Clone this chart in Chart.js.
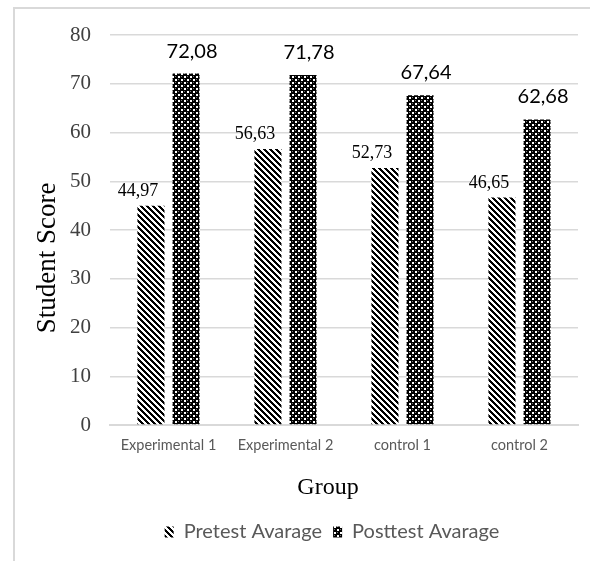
<!DOCTYPE html>
<html>
<head>
<meta charset="utf-8">
<script src="https://cdn.jsdelivr.net/npm/chart.js@4.4.1/dist/chart.umd.min.js"></script>
<style>
html,body{margin:0;padding:0;background:#fff;overflow:hidden;}
#frame{position:absolute;left:13px;top:7px;width:600px;height:600px;border-left:2px solid #d9d9d9;border-top:2px solid #d9d9d9;box-sizing:border-box;}
#wrap{position:absolute;left:0;top:0;width:590px;height:561px;}
</style>
</head>
<body>
<div id="frame"></div>
<div id="wrap"><canvas id="c" width="590" height="561"></canvas></div>
<script>
const categories = ["Experimental 1", "Experimental 2", "control 1", "control 2"];
const pretest = [44.97, 56.63, 52.73, 46.65];
const posttest = [72.08, 71.78, 67.64, 62.68];
const seriesNames = ["Pretest Avarage", "Posttest Avarage"];
const yTicks = [0, 10, 20, 30, 40, 50, 60, 70, 80];
const yTitle = "Student Score";
const xTitle = "Group";

function stripePattern() {
  const t = document.createElement('canvas');
  t.width = 6; t.height = 6;
  const g = t.getContext('2d');
  g.fillStyle = '#fff'; g.fillRect(0,0,6,6);
  g.fillStyle = '#000';
  for (let y = 0; y < 6; y++) for (let x = 0; x < 6; x++) {
    if ((((x - y) % 6) + 6) % 6 < 3) g.fillRect(x, y, 1, 1);
  }
  return g.createPattern(t, 'repeat');
}
function checkPattern() {
  const t = document.createElement('canvas');
  t.width = 6; t.height = 6;
  const g = t.getContext('2d');
  g.fillStyle = '#000'; g.fillRect(0,0,6,6);
  g.fillStyle = '#fff';
  g.fillRect(1,1,2,2);
  g.fillRect(4,4,2,2);
  g.fillStyle = '#777';
  g.fillRect(4,1,1,1);
  g.fillRect(1,4,1,1);
  return g.createPattern(t, 'repeat');
}
const ctx = document.getElementById('c').getContext('2d');
const pStripe = stripePattern();
const pCheck = checkPattern();

function fmt(v){ return v.toFixed(2).replace('.', ','); }

const shiftLegend = {
  id: 'shiftLegend',
  afterLayout(chart) {
    const lg = chart.legend;
    if (lg) { lg.left += 43; lg.right += 43; }
  }
};

const labelPlugin = {
  id: 'valLabels',
  afterDatasetsDraw(chart) {
    const c = chart.ctx;
    c.save();
    c.fillStyle = '#000';
    c.textAlign = 'center';
    c.textBaseline = 'alphabetic';
    chart.data.datasets.forEach((ds, di) => {
      const meta = chart.getDatasetMeta(di);
      meta.data.forEach((el, i) => {
        const v = ds.data[i];
        if (di === 0) {
          c.font = '18px "Liberation Serif", serif';
          c.fillText(fmt(v), el.x - 13, el.y - 10);
        } else {
          c.font = '20px Lato, "Open Sans", sans-serif';
          c.fillText(fmt(v), el.x + 6, el.y - 16);
        }
      });
    });
    const area = chart.chartArea;
    // x axis title
    c.font = '24px "Liberation Serif", serif';
    c.fillText(xTitle, (area.left + area.right) / 2 - 16, area.bottom + 69);
    // y axis title, rotated
    c.font = '27px "Liberation Serif", serif';
    c.translate(55, (area.top + area.bottom) / 2 + 28);
    c.rotate(-Math.PI / 2);
    c.fillText(yTitle, 0, 0);
    c.restore();
  }
};

new Chart(ctx, {
  type: 'bar',
  data: {
    labels: categories,
    datasets: [
      { label: seriesNames[0], data: pretest, backgroundColor: pStripe, borderWidth: 0 },
      { label: seriesNames[1], data: posttest, backgroundColor: pCheck, borderWidth: 0 }
    ]
  },
  options: {
    responsive: false,
    animation: false,
    devicePixelRatio: 1,
    layout: { padding: { left: 0, right: 12, top: 35, bottom: 9 } },
    datasets: { bar: { categoryPercentage: 0.6, barPercentage: 0.77 } },
    plugins: {
      legend: {
        position: 'bottom',
        labels: {
          boxWidth: 9, boxHeight: 11, padding: 11,
          color: '#595959',
          font: { family: 'Lato, "Open Sans", sans-serif', size: 20 }
        }
      },
      tooltip: { enabled: false }
    },
    scales: {
      x: {
        afterFit(s) { s.height = 86; },
        grid: { display: false, drawTicks: false },
        border: { color: '#d9d9d9', width: 2 },
        ticks: { color: '#595959', padding: 12, font: { family: 'Lato, "Open Sans", sans-serif', size: 14.5 } }
      },
      y: {
        min: 0, max: 80,
        afterFit(s) { s.width = 110; },
        afterBuildTicks(s) { s.ticks = yTicks.map(v => ({ value: v })); },
        grid: { color: '#d9d9d9', lineWidth: 1.5, drawTicks: false },
        border: { display: false },
        ticks: { color: '#404040', padding: 19, font: { family: '"Liberation Serif", serif', size: 21 } }
      }
    }
  },
  plugins: [shiftLegend, labelPlugin]
});
</script>
</body>
</html>
